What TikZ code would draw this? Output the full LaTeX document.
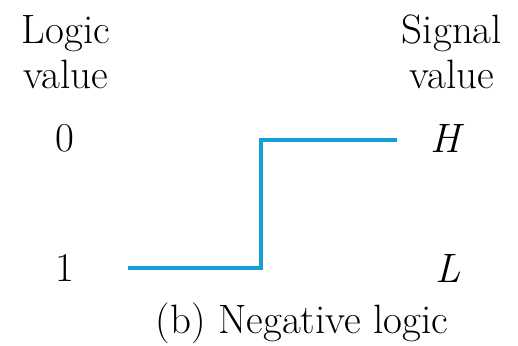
\documentclass[tikz,border=0pt]{standalone}
\definecolor{sig}{RGB}{20,160,215}
\begin{document}
\begin{tikzpicture}[x=0.5pt,y=-0.5pt,
  lbl/.style={font=\fontsize{20.5}{22.5}\selectfont, inner sep=0pt, align=center},
  wave/.style={draw=sig, line width=1.6pt}]
\useasboundingbox (0,0) rectangle (518,345);
\node[lbl] (lv) at (66,52) {Logic\\value};
\node[lbl] (sv) at (452,52) {Signal\\value};
\node[lbl] (z) at (65,138) {0};
\node[lbl] (o) at (65,268) {1};
\node[lbl] (h) at (448,138) {\textit{H}};
\node[lbl] (l) at (448,268) {\textit{L}};
\node[lbl] (cap) at (302,323) {(b) Negative logic};
\coordinate (a) at (128,268);
\coordinate (b) at (261,268);
\coordinate (c) at (261,140);
\coordinate (d) at (397,140);
\draw[wave] (a) -- (b) -- (c) -- (d);
\end{tikzpicture}
\end{document}
